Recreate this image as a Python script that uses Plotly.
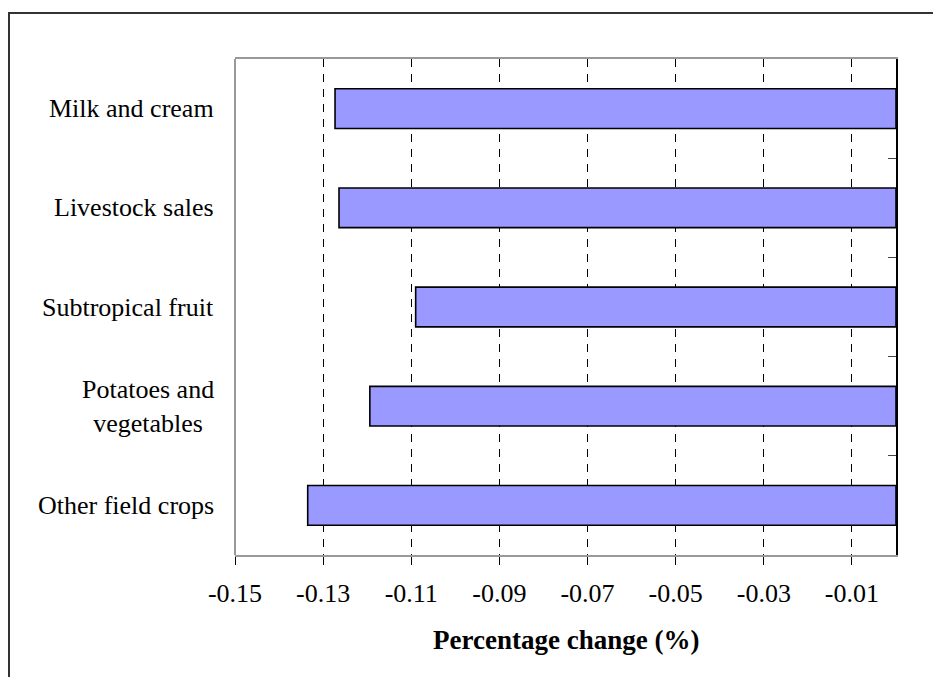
import plotly.graph_objects as go

categories = ["Milk and cream", "Livestock sales", "Subtropical fruit",
              "Potatoes and<br>vegetables", "Other field crops"]
values = [-0.1273, -0.1264, -0.1090, -0.1194, -0.1335]
tick_vals = [-0.15, -0.13, -0.11, -0.09, -0.07, -0.05, -0.03, -0.01]
tick_text = ["-0.15", "-0.13", "-0.11", "-0.09", "-0.07", "-0.05", "-0.03", "-0.01"]
x_title = "Percentage change (%)"

W, H = 933, 677
L, R, T, B = 235, 896, 59, 555
pw, ph = R - L, B - T

font_family = "Liberation Serif, DejaVu Serif, serif"
FS = 26

fig = go.Figure()
fig.add_trace(go.Bar(
    y=categories, x=values, orientation="h",
    marker=dict(color="#9999FF", line=dict(color="black", width=1.6)),
    width=0.4, showlegend=False, hoverinfo="skip",
))

annotations = []
for c in categories:
    annotations.append(dict(
        x=(216 - L) / pw, xref="paper", y=c, yref="y",
        text=c, showarrow=False, xanchor="right", yanchor="middle",
        align="center", font=dict(family=font_family, size=FS, color="black"),
    ))
annotations.append(dict(
    x=0.5, xref="paper", y=(B - 640) / ph, yref="paper",
    text="<b>" + x_title + "</b>", showarrow=False,
    xanchor="center", yanchor="middle",
    font=dict(family=font_family, size=27, color="black"),
))

shapes = [
    # outer border
    dict(type="rect", xref="paper", yref="paper",
         x0=(9 - L) / pw, x1=(W + 5 - L) / pw,
         y0=(B - (H + 5)) / ph, y1=(B - 13) / ph,
         line=dict(color="#333333", width=2), layer="below"),
    # left plot border
    dict(type="line", xref="paper", yref="paper", x0=0, x1=0, y0=0, y1=1,
         line=dict(color="#999999", width=2), layer="above"),
]

fig.update_layout(
    width=W, height=H,
    margin=dict(l=L, r=W - R, t=T, b=H - B),
    paper_bgcolor="white", plot_bgcolor="white",
    bargap=0.6,
    annotations=annotations, shapes=shapes,
    font=dict(family=font_family, size=FS, color="black"),
    xaxis=dict(
        range=[-0.15, 0], tickvals=tick_vals, ticktext=tick_text,
        showgrid=True, gridcolor="black", gridwidth=1, griddash="8px,7px",
        showline=True, linecolor="#999999", linewidth=2, mirror=True,
        ticks="outside", ticklen=8, tickcolor="black", tickwidth=1,
        ticklabelstandoff=6,
        tickfont=dict(family=font_family, size=FS, color="black"),
        zeroline=False, fixedrange=True,
    ),
    yaxis=dict(
        categoryorder="array", categoryarray=categories[::-1],
        side="right", showticklabels=False,
        ticks="inside", ticklen=8, tickcolor="#444444", tickwidth=1,
        tickson="boundaries",
        showline=True, linecolor="black", linewidth=2,
        showgrid=False, zeroline=False, fixedrange=True,
    ),
)

fig.write_html(
    "out.html",
    config={"displayModeBar": False},
    post_script="document.body.style.margin='0';document.body.style.overflow='hidden';",
)
